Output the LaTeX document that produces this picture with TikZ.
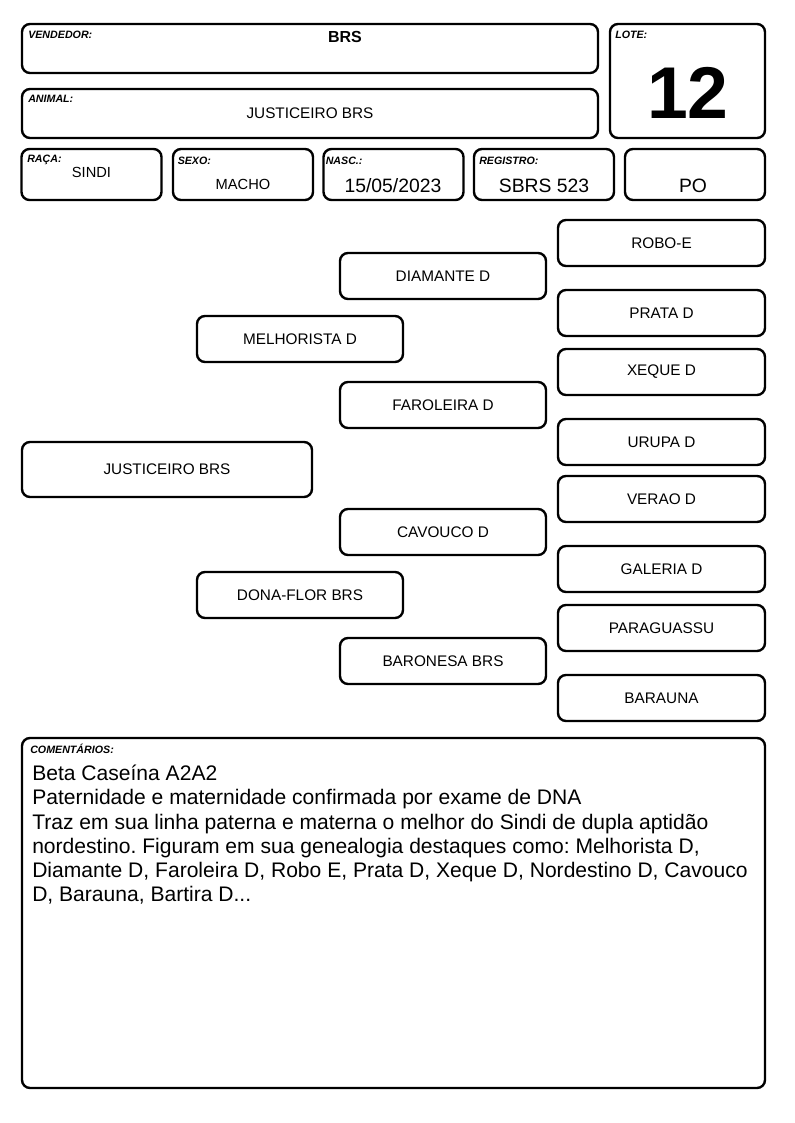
\documentclass[tikz,border=0pt]{standalone}
\usepackage{fontspec}
\setmainfont{Liberation Sans}
\frenchspacing

\begin{document}
\begin{tikzpicture}[x=0.75pt,y=-0.75pt,
  box/.style={draw,line width=1.8pt,rounded corners=6pt,inner sep=0pt},
  lbl/.style={font=\fontsize{8}{9}\selectfont\bfseries\itshape,anchor=base west,inner sep=0pt},
  val/.style={anchor=base,inner sep=0pt},
  ped/.style={box,minimum width=154.5pt,minimum height=34.5pt,font=\fontsize{11.5}{13}\selectfont}]
\useasboundingbox (0,0) rectangle (794,1123);
\node[box,minimum width=432pt,minimum height=36.75pt] (vend) at (310,48.5) {};
\node[box,minimum width=432pt,minimum height=36.75pt] (anim) at (310,113.5) {};
\node[box,minimum width=116.25pt,minimum height=85.5pt] (lote) at (687.5,81) {};
\node[box,minimum width=105pt,minimum height=38.25pt] (raca) at (91.5,174.5) {};
\node[box,minimum width=105pt,minimum height=38.25pt] (sexo) at (243,174.5) {};
\node[box,minimum width=105pt,minimum height=38.25pt] (nasc) at (393.5,174.5) {};
\node[box,minimum width=105pt,minimum height=38.25pt] (reg) at (544,174.5) {};
\node[box,minimum width=105pt,minimum height=38.25pt] (po) at (695,174.5) {};
\node[lbl] (vendl) at (28,39) {VENDEDOR:};
\node[lbl] (animl) at (28,103) {ANIMAL:};
\node[lbl] (lotel) at (615,38.5) {LOTE:};
\node[lbl] (racal) at (27,163) {RAÇA:};
\node[lbl] (sexol) at (177.5,164.5) {SEXO:};
\node[lbl] (nascl) at (325.5,164.5) {NASC.:};
\node[lbl] (regl) at (479,164.5) {REGISTRO:};
\node[val,font=\fontsize{12}{14}\selectfont\bfseries] (vendv) at (345,42.5) {BRS};
\node[val,font=\fontsize{11.5}{13}\selectfont] (animv) at (310,119) {JUSTICEIRO BRS};
\node[val,font=\fontsize{55}{60}\selectfont\bfseries] (lotev) at (688,118.5) {12};
\node[val,font=\fontsize{11}{13}\selectfont] (racav) at (91.5,178) {SINDI};
\node[val,font=\fontsize{11}{13}\selectfont] (sexov) at (243,189.5) {MACHO};
\node[val,font=\fontsize{14.5}{17}\selectfont] (nascv) at (393,192.5) {15/05/2023};
\node[val,font=\fontsize{14.5}{17}\selectfont] (regv) at (544,192.5) {SBRS 523};
\node[val,font=\fontsize{14.5}{17}\selectfont] (pov) at (693,192.5) {PO};
\node[ped,minimum width=217.5pt,minimum height=41.25pt] (animal) at (167,469.5) {JUSTICEIRO BRS};
\node[ped] (pai) at (300,339) {MELHORISTA D};
\node[ped] (mae) at (300,595) {DONA-FLOR BRS};
\node[ped] (avop) at (443,276) {DIAMANTE D};
\node[ped] (avap) at (443,405) {FAROLEIRA D};
\node[ped] (avom) at (443,532) {CAVOUCO D};
\node[ped] (avam) at (443,661) {BARONESA BRS};
\node[ped,minimum width=155.25pt] (bis1) at (661.5,243) {ROBO-E};
\node[ped,minimum width=155.25pt] (bis2) at (661.5,313) {PRATA D};
\node[ped,minimum width=155.25pt] (bis3) at (661.5,372) {XEQUE D};
\node[ped,minimum width=155.25pt] (bis4) at (661.5,442) {URUPA D};
\node[ped,minimum width=155.25pt] (bis5) at (661.5,499) {VERAO D};
\node[ped,minimum width=155.25pt] (bis6) at (661.5,569) {GALERIA D};
\node[ped,minimum width=155.25pt] (bis7) at (661.5,628) {PARAGUASSU};
\node[ped,minimum width=155.25pt] (bis8) at (661.5,698) {BARAUNA};
\node[box,minimum width=557.25pt,minimum height=262.5pt] (coment) at (393.5,913) {};
\node[lbl] (comentl) at (30,753.5) {COMENTÁRIOS:};
\node[anchor=base west,inner sep=0pt,align=left,font=\fontsize{15.8}{18.1}\selectfont] (comentv) at (32,901.5) {Beta Caseína A2A2\\
Paternidade e maternidade confirmada por exame de DNA\\
Traz em sua linha paterna e materna o melhor do Sindi de dupla aptidão\\
nordestino. Figuram em sua genealogia destaques como: Melhorista D,\\
Diamante D, Faroleira D, Robo E, Prata D, Xeque D, Nordestino D, Cavouco\\
D, Barauna, Bartira D...};
\end{tikzpicture}
\end{document}
